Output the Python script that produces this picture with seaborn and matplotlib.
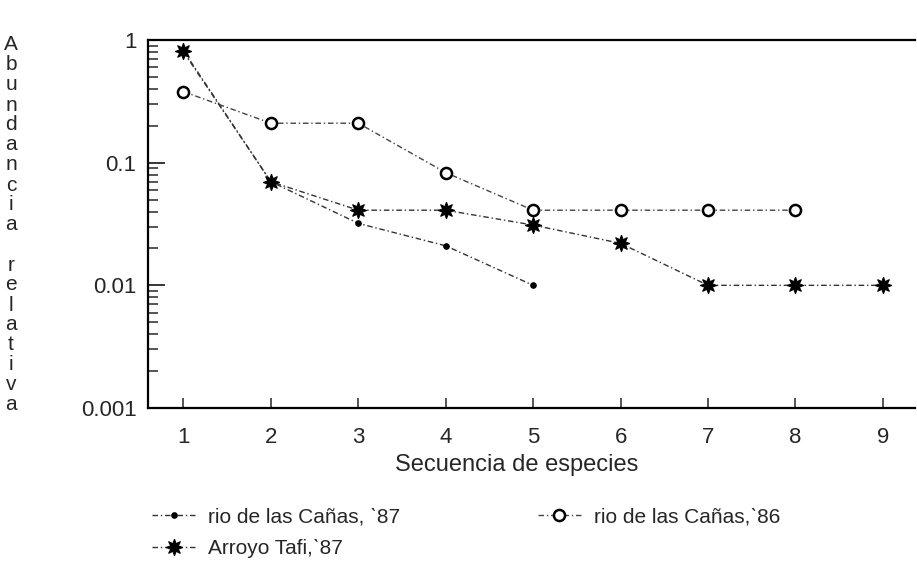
import numpy as np
import pandas as pd
import matplotlib
matplotlib.use('Agg')
import matplotlib.pyplot as plt
import seaborn as sns

# species rank sequence and relative abundances
especies = [1, 2, 3, 4, 5, 6, 7, 8, 9]
canas_87 = [0.80, 0.070, 0.032, 0.021, 0.010]
canas_86 = [0.38, 0.21, 0.21, 0.083, 0.041, 0.041, 0.041, 0.041]
tafi_87 = [0.82, 0.070, 0.041, 0.041, 0.031, 0.022, 0.010, 0.010, 0.010]

labels = ["rio de las Cañas, \u02cb87", "rio de las Cañas,\u02cb86", "Arroyo Tafi,\u02cb87"]

sns.set_style('white')
plt.rcParams['font.family'] = ['Liberation Sans', 'DejaVu Sans']

fig = plt.figure(figsize=(9.17, 5.65), dpi=100)
ax = fig.add_axes([0.161, 0.278, 0.837, 0.651])

ls = (0, (4, 2, 1, 2))
sns.lineplot(x=especies[:len(canas_87)], y=canas_87, ax=ax, color='#333333',
             linestyle=ls, linewidth=1, marker='o', markersize=4,
             markerfacecolor='black', markeredgecolor='black', label=labels[0])
sns.lineplot(x=especies[:len(canas_86)], y=canas_86, ax=ax, color='#444444',
             linestyle=ls, linewidth=1, marker='o', markersize=8,
             markerfacecolor='white', markeredgecolor='black', markeredgewidth=1.8,
             label=labels[1])
sns.lineplot(x=especies[:len(tafi_87)], y=tafi_87, ax=ax, color='#333333',
             linestyle=ls, linewidth=1, marker=(8, 1, 0), markersize=12,
             markerfacecolor='black', markeredgecolor='black', label=labels[2])

ax.set_yscale('log')
ax.set_ylim(0.001, 1)
ax.set_xlim(0.59, 9.37)
ax.set_xticks(especies)
ax.set_yticks([0.001, 0.01, 0.1, 1])
ax.set_yticklabels(['0.001', '0.01', '0.1', '1'])
ax.tick_params(axis='y', which='major', direction='in', length=12, width=1.3,
               labelsize=16, pad=8)
ax.tick_params(axis='y', which='minor', direction='in', length=7, width=1.1)
ax.tick_params(axis='x', which='major', direction='in', length=7, width=1.1,
               labelsize=16, pad=14)
ax.yaxis.set_ticks_position('left')
ax.xaxis.set_ticks_position('bottom')
for sp in ax.spines.values():
    sp.set_linewidth(1.6)
    sp.set_color('black')
ax.spines['right'].set_visible(False)

ax.set_xlabel('Secuencia de especies', fontsize=17, labelpad=6)
ax.xaxis.set_label_coords(0.481, -0.125)
ax.set_ylabel('')

# vertical stacked y label
ylab = 'Abundancia relativa'
y0, y1 = 1 - 45 / 565, 1 - 405 / 565
for i, ch in enumerate(ylab):
    fig.text(0.012, y0 + (y1 - y0) * i / (len(ylab) - 1), ch, fontsize=15,
             ha='center', va='center')

h, l = ax.get_legend_handles_labels()
ax.legend_.remove()
order = [0, 2, 1]
fig.legend([h[i] for i in order], [l[i] for i in order], ncol=2,
           loc='upper left', bbox_to_anchor=(0.145, 0.135), frameon=False,
           fontsize=15, handlelength=2.1, columnspacing=6.6, labelspacing=0.6,
           handletextpad=0.6, bbox_transform=fig.transFigure)

fig.savefig('out.png', dpi=100)
